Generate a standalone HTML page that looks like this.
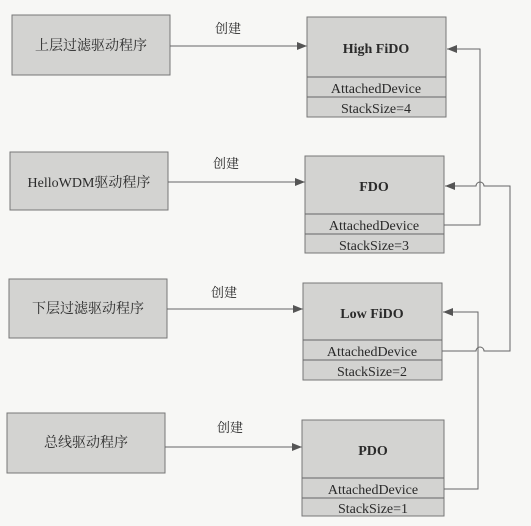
<!DOCTYPE html>
<html><head><meta charset="utf-8"><style>
body{margin:0;background:#f7f7f5;}
svg{display:block}
text{font-family:"Liberation Serif","Noto Serif CJK SC",serif;fill:#2a2a2a;text-anchor:middle}
.b{fill:#d3d3d1;stroke:#777;stroke-width:1}
.l{stroke:#666;stroke-width:1;fill:none}
</style></head><body>
<svg width="531" height="526" viewBox="0 0 531 526">
<defs><marker id="a" markerWidth="10" markerHeight="8" refX="10" refY="4" orient="auto" markerUnits="userSpaceOnUse"><path d="M0,0 L10,4 L0,8z" fill="#555"/></marker></defs>
<g font-size="14">
<rect class="b" x="12" y="15" width="158" height="60"/><text x="91" y="50">上层过滤驱动程序</text>
<rect class="b" x="10" y="152" width="158" height="58"/><text x="89" y="187">HelloWDM驱动程序</text>
<rect class="b" x="9" y="279" width="158" height="59"/><text x="88" y="313">下层过滤驱动程序</text>
<rect class="b" x="7" y="413" width="158" height="60"/><text x="86" y="447">总线驱动程序</text>
</g>
<g font-size="13">
<text x="228" y="33">创建</text><text x="226" y="168">创建</text><text x="224" y="297">创建</text><text x="230" y="432">创建</text>
</g>
<line class="l" x1="170" y1="46" x2="307" y2="46" marker-end="url(#a)"/>
<line class="l" x1="168" y1="182" x2="305" y2="182" marker-end="url(#a)"/>
<line class="l" x1="167" y1="309" x2="303" y2="309" marker-end="url(#a)"/>
<line class="l" x1="165" y1="447" x2="302" y2="447" marker-end="url(#a)"/>
<g font-size="14">
<rect class="b" x="307" y="17" width="139" height="100"/><line class="l" x1="307" y1="77" x2="446" y2="77"/><line class="l" x1="307" y1="97" x2="446" y2="97"/>
<text x="376" y="53" font-weight="bold">High FiDO</text><text x="376" y="93">AttachedDevice</text><text x="376" y="113">StackSize=4</text>
<rect class="b" x="305" y="156" width="139" height="97"/><line class="l" x1="305" y1="214" x2="444" y2="214"/><line class="l" x1="305" y1="234" x2="444" y2="234"/>
<text x="374" y="191" font-weight="bold">FDO</text><text x="374" y="230">AttachedDevice</text><text x="374" y="250">StackSize=3</text>
<rect class="b" x="303" y="283" width="139" height="97"/><line class="l" x1="303" y1="340" x2="442" y2="340"/><line class="l" x1="303" y1="360" x2="442" y2="360"/>
<text x="372" y="318" font-weight="bold">Low FiDO</text><text x="372" y="356">AttachedDevice</text><text x="372" y="376">StackSize=2</text>
<rect class="b" x="302" y="420" width="142" height="96"/><line class="l" x1="302" y1="478" x2="444" y2="478"/><line class="l" x1="302" y1="498" x2="444" y2="498"/>
<text x="373" y="455" font-weight="bold">PDO</text><text x="373" y="494">AttachedDevice</text><text x="373" y="513">StackSize=1</text>
</g>
<path class="l" d="M444,225 H480 V49 H447" marker-end="url(#a)"/>
<path class="l" d="M442,351 H476 a4,4 0 0 1 8,0 H510 V186 H484 a4,4 0 0 0 -8,0 H445" marker-end="url(#a)"/>
<path class="l" d="M444,489 H478 V312 H443" marker-end="url(#a)"/>
</svg>
</body></html>
